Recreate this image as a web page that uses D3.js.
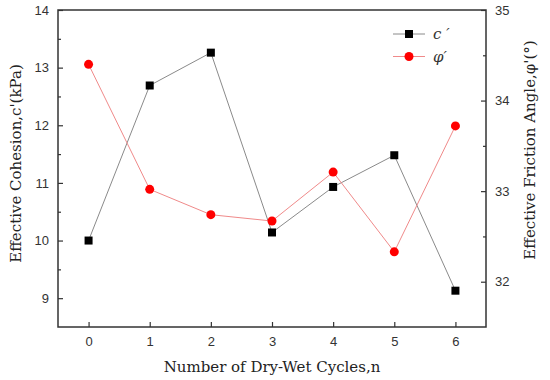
<!DOCTYPE html>
<html>
<head>
<meta charset="utf-8">
<script src="https://cdn.jsdelivr.net/npm/d3@7"></script>
<style>
  body { margin: 0; background: #fff; }
  svg { display: block; }
  .tick text { font-family: Arial, "Liberation Sans", Roboto, sans-serif; font-size: 13px; }
</style>
</head>
<body>
<div id="chart"></div>
<script>
// Datos
const cycles = [0, 1, 2, 3, 4, 5, 6];
const cohesion = [10.0, 12.69, 13.26, 10.14, 10.93, 11.48, 9.13];
const frictionAngle = [34.40, 33.02, 32.74, 32.67, 33.21, 32.33, 33.72];
const leftTicks = [9, 10, 11, 12, 13, 14];
const leftMinor = [9.5, 10.5, 11.5, 12.5, 13.5];
const rightTicks = [32, 33, 34, 35];
const rightMinor = [32.5, 33.5, 34.5];

const width = 550, height = 380;
const margin = { top: 10, right: 64, bottom: 53, left: 58 };

const svg = d3.select("#chart").append("svg")
    .attr("width", width)
    .attr("height", height);

const x = d3.scaleLinear().domain([-0.5, 6.5]).range([margin.left, width - margin.right]);
const yLeft = d3.scaleLinear().domain([8.5, 14]).range([height - margin.bottom, margin.top]);
const yRight = d3.scaleLinear().domain([31.5, 35]).range([height - margin.bottom, margin.top]);

const titleFont = "'DejaVu Serif', serif";
const fmt = d3.format("d");

// Ejes con marcas hacia dentro
function styleAxis(g) {
    g.attr("font-family", null).attr("font-size", null);
    g.select(".domain").remove();
    g.selectAll(".tick line").attr("stroke", "#333").attr("stroke-width", 1.2);
    g.selectAll(".tick text").attr("fill", "#333");
}

// eje izquierdo
svg.append("g")
    .attr("transform", `translate(${margin.left},0)`)
    .call(d3.axisLeft(yLeft).tickValues(leftTicks).tickSizeInner(-5).tickSizeOuter(0).tickPadding(9).tickFormat(fmt))
    .call(styleAxis);
svg.append("g")
    .attr("transform", `translate(${margin.left},0)`)
    .call(d3.axisLeft(yLeft).tickValues(leftMinor).tickSizeInner(-3).tickSizeOuter(0).tickFormat(""))
    .call(styleAxis);

// eje derecho
svg.append("g")
    .attr("transform", `translate(${width - margin.right},0)`)
    .call(d3.axisRight(yRight).tickValues(rightTicks).tickSizeInner(-5).tickSizeOuter(0).tickPadding(9).tickFormat(fmt))
    .call(styleAxis);
svg.append("g")
    .attr("transform", `translate(${width - margin.right},0)`)
    .call(d3.axisRight(yRight).tickValues(rightMinor).tickSizeInner(-3).tickSizeOuter(0).tickFormat(""))
    .call(styleAxis);

// eje inferior
svg.append("g")
    .attr("transform", `translate(0,${height - margin.bottom})`)
    .call(d3.axisBottom(x).tickValues(cycles).tickSizeInner(-5).tickSizeOuter(0).tickPadding(10).tickFormat(fmt))
    .call(styleAxis);

// marco
svg.append("rect")
    .attr("x", margin.left)
    .attr("y", margin.top)
    .attr("width", width - margin.left - margin.right)
    .attr("height", height - margin.top - margin.bottom)
    .attr("fill", "none")
    .attr("stroke", "#333")
    .attr("stroke-width", 1.5);

// series
const cData = cycles.map((n, i) => ({ n, v: cohesion[i] }));
const phiData = cycles.map((n, i) => ({ n, v: frictionAngle[i] }));

svg.append("path")
    .datum(cData)
    .attr("fill", "none")
    .attr("stroke", "#8a8a8a")
    .attr("stroke-width", 1)
    .attr("d", d3.line().x(d => x(d.n)).y(d => yLeft(d.v)));

svg.append("path")
    .datum(phiData)
    .attr("fill", "none")
    .attr("stroke", "#f08a8a")
    .attr("stroke-width", 1)
    .attr("d", d3.line().x(d => x(d.n)).y(d => yRight(d.v)));

svg.selectAll(".c-pt").data(cData).enter().append("rect")
    .attr("x", d => x(d.n) - 4)
    .attr("y", d => yLeft(d.v) - 4)
    .attr("width", 8)
    .attr("height", 8)
    .attr("fill", "#000");

svg.selectAll(".phi-pt").data(phiData).enter().append("circle")
    .attr("cx", d => x(d.n))
    .attr("cy", d => yRight(d.v))
    .attr("r", 4.5)
    .attr("fill", "#ff0000");

// leyenda
const legend = svg.append("g").attr("transform", "translate(393,34)");
legend.append("line").attr("x1", 0).attr("x2", 32).attr("y1", 0).attr("y2", 0).attr("stroke", "#8a8a8a");
legend.append("rect").attr("x", 12).attr("y", -4).attr("width", 8).attr("height", 8).attr("fill", "#000");
legend.append("text").attr("x", 40).attr("y", 5)
    .style("font-family", titleFont).style("font-size", "15px").style("font-style", "italic")
    .attr("fill", "#333").text("c ′");
legend.append("line").attr("x1", 0).attr("x2", 32).attr("y1", 22.5).attr("y2", 22.5).attr("stroke", "#f08a8a");
legend.append("circle").attr("cx", 16).attr("cy", 22.5).attr("r", 4.5).attr("fill", "#ff0000");
legend.append("text").attr("x", 40).attr("y", 28)
    .style("font-family", titleFont).style("font-size", "15px").style("font-style", "italic")
    .attr("fill", "#333").text("φ′");

// títulos de ejes
function axisTitle(sel) {
    sel.attr("text-anchor", "middle")
        .style("font-family", titleFont)
        .style("font-size", "15px")
        .attr("fill", "#222");
}

svg.append("text")
    .attr("x", (margin.left + width - margin.right) / 2)
    .attr("y", 372)
    .call(axisTitle)
    .text("Number of Dry-Wet Cycles,n");

svg.append("text")
    .attr("transform", `translate(21,${(margin.top + height - margin.bottom) / 2 - 5}) rotate(-90)`)
    .call(axisTitle)
    .text("Effective Cohesion,c'(kPa)");

svg.append("text")
    .attr("transform", `translate(535,150) rotate(-90)`)
    .call(axisTitle)
    .text("Effective Friction Angle,φ'(°)");
</script>
</body>
</html>
